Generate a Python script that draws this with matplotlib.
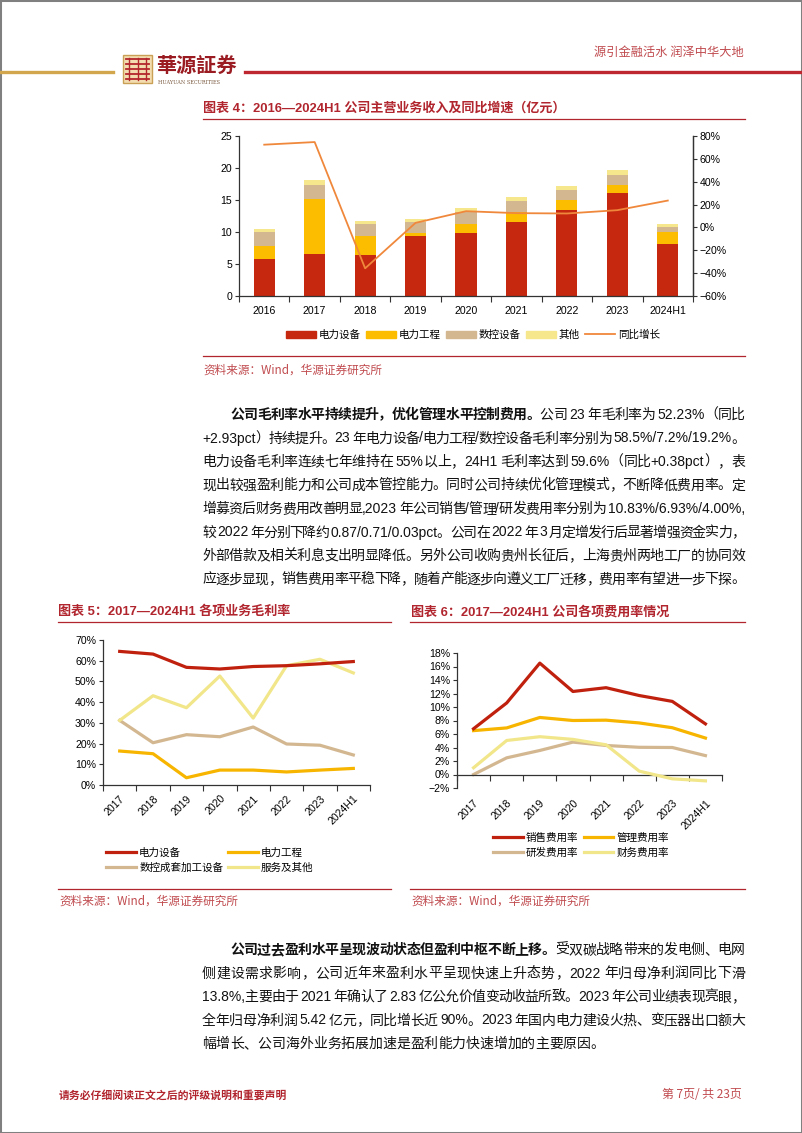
import matplotlib
matplotlib.use('Agg')
import matplotlib.pyplot as plt
import numpy as np
from matplotlib.patches import Rectangle, Patch
from matplotlib.lines import Line2D
from matplotlib.ticker import FuncFormatter

# ---------------- data ----------------
years4 = ['2016', '2017', '2018', '2019', '2020', '2021', '2022', '2023', '2024H1']
rev_power_equip = [5.8, 6.5, 6.45, 9.4, 9.87, 11.64, 13.4, 16.16, 8.16]
rev_power_eng = [2.0, 8.7, 2.95, 0.37, 1.35, 1.5, 1.67, 1.2, 1.87]
rev_cnc = [2.2, 2.1, 1.8, 1.8, 1.85, 1.65, 1.56, 1.6, 0.78]
rev_other = [0.45, 0.85, 0.5, 0.45, 0.72, 0.64, 0.63, 0.73, 0.43]
rev_yoy = [72.4, 74.7, -35.8, 4.0, 14.2, 12.5, 12.2, 15.1, 23.5]
legend4 = ['电力设备', '电力工程', '数控设备', '其他', '同比增长']

years5 = ['2017', '2018', '2019', '2020', '2021', '2022', '2023', '2024H1']
gm_power_equip = [64.5, 63.2, 56.8, 56.0, 57.2, 57.6, 58.5, 59.6]
gm_power_eng = [16.4, 15.1, 3.5, 7.2, 7.2, 6.3, 7.2, 8.0]
gm_cnc = [31.2, 20.4, 24.3, 23.3, 28.0, 19.8, 19.2, 14.5]
gm_other = [31.2, 43.1, 37.3, 52.6, 32.3, 57.6, 60.7, 54.1]
legend5 = ['电力设备', '电力工程', '数控成套加工设备', '服务及其他']

years6 = ['2017', '2018', '2019', '2020', '2021', '2022', '2023', '2024H1']
exp_sales = [6.78, 10.6, 16.5, 12.3, 12.86, 11.70, 10.83, 7.5]
exp_admin = [6.5, 6.9, 8.45, 8.0, 8.05, 7.64, 6.93, 5.4]
exp_rd = [0.0, 2.47, 3.56, 4.8, 4.3, 4.03, 4.00, 2.8]
exp_fin = [1.0, 5.04, 5.6, 5.2, 4.4, 0.5, -0.64, -0.94]
legend6 = ['销售费用率', '管理费用率', '研发费用率', '财务费用率']

title4 = '图表 4：2016—2024H1 公司主营业务收入及同比增速（亿元）'
title5 = '图表 5：2017—2024H1 各项业务毛利率'
title6 = '图表 6：2017—2024H1 公司各项费用率情况'
source = '资料来源：Wind，华源证券研究所'

para1 = [
    [('公司毛利率水平持续提升，优化管理水平控制费用。', 'bold'), ('公司 23 年毛利率为 52.23%（同比', 'normal')],
    [('+2.93pct）持续提升。23 年电力设备/电力工程/数控设备毛利率分别为 58.5%/7.2%/19.2%。', 'normal')],
    [('电力设备毛利率连续七年维持在 55%以上，24H1 毛利率达到 59.6%（同比+0.38pct），表', 'normal')],
    [('现出较强盈利能力和公司成本管控能力。同时公司持续优化管理模式，不断降低费用率。定', 'normal')],
    [('增募资后财务费用改善明显,2023 年公司销售/管理/研发费用率分别为 10.83%/6.93%/4.00%,', 'normal')],
    [('较 2022 年分别下降约 0.87/0.71/0.03pct。公司在 2022 年 3 月定增发行后显著增强资金实力，', 'normal')],
    [('外部借款及相关利息支出明显降低。另外公司收购贵州长征后，上海贵州两地工厂的协同效', 'normal')],
    [('应逐步显现，销售费用率平稳下降，随着产能逐步向遵义工厂迁移，费用率有望进一步下探。', 'normal')],
]
para2 = [
    [('公司过去盈利水平呈现波动状态但盈利中枢不断上移。', 'bold'), ('受双碳战略带来的发电侧、电网', 'normal')],
    [('侧建设需求影响，公司近年来盈利水平呈现快速上升态势，2022 年归母净利润同比下滑', 'normal')],
    [('13.8%,主要由于 2021 年确认了 2.83 亿公允价值变动收益所致。2023 年公司业绩表现亮眼，', 'normal')],
    [('全年归母净利润 5.42 亿元，同比增长近 90%。2023 年国内电力建设火热、变压器出口额大', 'normal')],
    [('幅增长、公司海外业务拓展加速是盈利能力快速增加的主要原因。', 'normal')],
]

# ---------------- style ----------------
W, H = 802, 1133
CJK = 'Noto Sans CJK SC'
LAT = 'Liberation Sans'
FAM = [LAT, CJK]
plt.rcParams['font.family'] = FAM
plt.rcParams['axes.unicode_minus'] = True

C_RED = '#C5280F'
C_YEL = '#FCBD00'
C_TAN = '#D3B791'
C_LIG = '#F6E68C'
C_LINE = '#F0883C'
C_TITLE = '#B1252E'
C_SRC = '#C04A4E'
C_SPINE = '#333333'

fig = plt.figure(figsize=(W / 100, H / 100), dpi=100)
renderer = fig.canvas.get_renderer()


def fx(x):
    return x / W


def fy(y):
    return 1 - y / H


def rect(l, t, r, b):
    return [l / W, 1 - b / H, (r - l) / W, (b - t) / H]


def hline(x0, x1, y, color, lw):
    fig.add_artist(Line2D([fx(x0), fx(x1)], [fy(y), fy(y)], color=color, lw=lw,
                          transform=fig.transFigure))


# page border
fig.add_artist(Rectangle((0, 0), 1, 1, transform=fig.transFigure, fill=False,
                         edgecolor='#808080', lw=2.2))

# ---------------- header ----------------
hline(0, 113, 72, '#D2A64C', 2.4)
hline(245, 802, 72, '#BF2730', 2.4)
# logo icon
fig.add_artist(Rectangle((fx(123), fy(83)), 29 / W, 28 / H, transform=fig.transFigure,
                         facecolor='#F3DDB0', edgecolor='#C9A055', lw=1.0))
for yy in [59, 64, 69, 74, 79]:
    hline(126, 149, yy, '#B3262C', 1.3)
for xx in [129, 137.5, 146]:
    fig.add_artist(Line2D([fx(xx), fx(xx)], [fy(58), fy(80)], color='#B3262C', lw=1.0,
                          transform=fig.transFigure))
fig.text(fx(156), fy(65), '華源証券', fontsize=14.5, fontweight='bold', color='#9A1C22',
         family=[CJK], va='center', ha='left')
fig.text(fx(158), fy(82), 'HUAYUAN SECURITIES', fontsize=3.6, color='#7A5A40',
         family=['DejaVu Serif'], va='center', ha='left')
fig.text(fx(744), fy(52), '源引金融活水 润泽中华大地', fontsize=8.8, color='#C04A4E',
         family=[CJK], va='center', ha='right')

# ---------------- chart 4 ----------------
fig.text(fx(203), fy(108), title4, fontsize=9.4, fontweight='bold', color=C_TITLE,
         va='center', ha='left')
hline(203, 745, 119, C_TITLE, 0.9)

ax4 = fig.add_axes(rect(239, 136, 693, 296))
x4 = np.arange(len(years4))
bw = 0.42
ax4.bar(x4, rev_power_equip, bw, color=C_RED, zorder=2)
bot = np.array(rev_power_equip)
ax4.bar(x4, rev_power_eng, bw, bottom=bot, color=C_YEL, zorder=2)
bot = bot + np.array(rev_power_eng)
ax4.bar(x4, rev_cnc, bw, bottom=bot, color=C_TAN, zorder=2)
bot = bot + np.array(rev_cnc)
ax4.bar(x4, rev_other, bw, bottom=bot, color=C_LIG, zorder=2)
ax4.set_xlim(-0.5, len(years4) - 0.5)
ax4.set_ylim(0, 25)
ax4.set_yticks(np.arange(0, 26, 5))
ax4.set_xticks(x4)
ax4.set_xticklabels(years4)
ax4.set_xticks(np.arange(-0.5, len(years4), 1.0), minor=True)
ax4.tick_params(axis='x', which='major', length=0, pad=7, labelsize=7.6)
ax4.tick_params(axis='x', which='minor', length=4, direction='out', width=0.8, color=C_SPINE)
ax4.tick_params(axis='y', length=3, width=0.8, labelsize=7.6, pad=2, color=C_SPINE)
ax4.spines['top'].set_visible(False)
for s in ['left', 'bottom', 'right']:
    ax4.spines[s].set_color(C_SPINE)
    ax4.spines[s].set_linewidth(0.9)
ax4b = ax4.twinx()
ax4b.plot(x4, rev_yoy, color=C_LINE, lw=1.3, zorder=3)
ax4b.set_ylim(-60, 80)
ax4b.set_yticks(np.arange(-60, 81, 20))
ax4b.yaxis.set_major_formatter(FuncFormatter(lambda v, p: ('\u2212' if v < 0 else '') + '%d%%' % abs(v)))
ax4b.tick_params(axis='y', length=3, width=0.8, labelsize=7.6, pad=2, color=C_SPINE)
ax4b.spines['top'].set_visible(False)
ax4b.spines['right'].set_color(C_SPINE)
ax4b.spines['right'].set_linewidth(0.9)
ax4b.spines['left'].set_visible(False)
ax4b.spines['bottom'].set_visible(False)

h4 = [Patch(color=C_RED), Patch(color=C_YEL), Patch(color=C_TAN), Patch(color=C_LIG),
      Line2D([], [], color=C_LINE, lw=1.3)]
fig.legend(h4, legend4, loc='center', bbox_to_anchor=(fx(473), fy(335)), ncol=5,
           frameon=False, prop={'family': FAM, 'size': 7.6}, handlelength=2.8,
           handleheight=0.75, handletextpad=0.3, columnspacing=0.5)
hline(203, 745, 356, C_TITLE, 0.9)
fig.text(fx(203), fy(370), source, fontsize=8.4, color=C_SRC, va='center', ha='left',
         family=[CJK, LAT])


# ---------------- paragraph helper ----------------
def is_cjk(ch):
    return ord(ch) >= 0x2E80


def tokenize(s):
    toks, buf = [], ''
    for ch in s:
        if is_cjk(ch) or ch == ' ':
            if buf:
                toks.append(buf)
                buf = ''
            toks.append(ch)
        else:
            buf += ch
    if buf:
        toks.append(buf)
    return toks


FS = 10.0
FSPX = FS * 100 / 72


def draw_line(runs, x0, x1, yc, justify=True):
    items = []
    for txt, wgt in runs:
        for tok in tokenize(txt):
            if tok == ' ':
                items.append((None, 0.22 * FSPX))
            else:
                t = fig.text(0, 0, tok, fontsize=FS, fontweight=wgt, color='#111111',
                             family=FAM, va='baseline', ha='left')
                w = t.get_window_extent(renderer).width
                items.append((t, w))
    total = sum(w for _, w in items)
    n = len(items) - 1
    extra = (x1 - x0 - total) / n if (justify and n > 0) else 0.0
    x = x0
    yb = yc + 0.36 * FSPX
    for t, w in items:
        if t is not None:
            t.set_position((fx(x), fy(yb)))
        x += w + extra


def draw_para(lines, ytop, spacing, last_justify):
    for i, runs in enumerate(lines):
        x0 = 230 if i == 0 else 202
        just = True if i < len(lines) - 1 else last_justify
        draw_line(runs, x0, 745, ytop + i * spacing, just)


draw_para(para1, 414, 23.5, True)
draw_para(para2, 949, 23.5, False)

# ---------------- chart 5 ----------------
fig.text(fx(58), fy(612), title5, fontsize=9.4, fontweight='bold', color=C_TITLE,
         va='center', ha='left')
hline(58, 391, 622, C_TITLE, 0.9)
ax5 = fig.add_axes(rect(103, 640, 370, 785))
x5 = np.arange(len(years5))
lw5 = 2.3
a, = ax5.plot(x5, gm_power_equip, color='#C0200E', lw=lw5, zorder=4)
b, = ax5.plot(x5, gm_power_eng, color='#F7B500', lw=lw5, zorder=3)
c, = ax5.plot(x5, gm_cnc, color=C_TAN, lw=lw5, zorder=2)
d, = ax5.plot(x5, gm_other, color='#F2E68A', lw=lw5, zorder=3)
ax5.set_xlim(-0.5, len(years5) - 0.5)
ax5.set_ylim(0, 70)
ax5.set_yticks(np.arange(0, 71, 10))
ax5.yaxis.set_major_formatter(FuncFormatter(lambda v, p: '%d%%' % v))
ax5.set_xticks(x5)
ax5.set_xticklabels(years5, rotation=45, ha='right', rotation_mode='anchor')
ax5.set_xticks(np.arange(-0.5, len(years5), 1.0), minor=True)
ax5.tick_params(axis='x', which='major', length=0, pad=6, labelsize=7.6)
ax5.tick_params(axis='x', which='minor', length=4, width=0.8, color=C_SPINE)
ax5.tick_params(axis='y', length=3, width=0.8, labelsize=7.6, pad=2, color=C_SPINE)
for s in ['top', 'right']:
    ax5.spines[s].set_visible(False)
for s in ['left', 'bottom']:
    ax5.spines[s].set_color(C_SPINE)
    ax5.spines[s].set_linewidth(0.9)
fig.legend([a, c, b, d], [legend5[0], legend5[2], legend5[1], legend5[3]], loc='center',
           bbox_to_anchor=(fx(210), fy(860)), ncol=2, frameon=False,
           prop={'family': FAM, 'size': 7.6}, handlelength=2.8, handletextpad=0.3,
           columnspacing=0.5, labelspacing=0.45)
hline(58, 391, 889, C_TITLE, 0.9)
fig.text(fx(59), fy(901), source, fontsize=8.4, color=C_SRC, va='center', ha='left',
         family=[CJK, LAT])

# ---------------- chart 6 ----------------
fig.text(fx(411), fy(612), title6, fontsize=9.4, fontweight='bold', color=C_TITLE,
         va='center', ha='left')
hline(410, 745, 622, C_TITLE, 0.9)
ax6 = fig.add_axes(rect(457, 653, 722, 788))
x6 = np.arange(len(years6))
a6, = ax6.plot(x6, exp_sales, color='#C0200E', lw=lw5, zorder=4)
b6, = ax6.plot(x6, exp_admin, color='#F7B500', lw=lw5, zorder=3)
c6, = ax6.plot(x6, exp_rd, color=C_TAN, lw=lw5, zorder=2)
d6, = ax6.plot(x6, exp_fin, color='#F2E68A', lw=lw5, zorder=3)
ax6.set_xlim(-0.5, len(years6) - 0.5)
ax6.set_ylim(-2, 18)
ax6.set_yticks(np.arange(-2, 19, 2))
ax6.yaxis.set_major_formatter(FuncFormatter(lambda v, p: ('\u2212' if v < 0 else '') + '%d%%' % abs(v)))
ax6.spines['bottom'].set_position(('data', 0))
ax6.set_xticks(x6)
ax6.set_xticklabels(years6, rotation=45, ha='right', rotation_mode='anchor')
ax6.set_xticks(np.arange(-0.5, len(years6), 1.0), minor=True)
ax6.tick_params(axis='x', which='major', length=0, pad=17, labelsize=7.6)
ax6.tick_params(axis='x', which='minor', length=4, width=0.8, color=C_SPINE)
ax6.tick_params(axis='y', length=3, width=0.8, labelsize=7.6, pad=2, color=C_SPINE)
for s in ['top', 'right']:
    ax6.spines[s].set_visible(False)
for s in ['left', 'bottom']:
    ax6.spines[s].set_color(C_SPINE)
    ax6.spines[s].set_linewidth(0.9)
fig.legend([a6, c6, b6, d6], [legend6[0], legend6[2], legend6[1], legend6[3]], loc='center',
           bbox_to_anchor=(fx(581), fy(845)), ncol=2, frameon=False,
           prop={'family': FAM, 'size': 7.6}, handlelength=2.8, handletextpad=0.3,
           columnspacing=0.5, labelspacing=0.45)
hline(410, 745, 889, C_TITLE, 0.9)
fig.text(fx(411), fy(901), source, fontsize=8.4, color=C_SRC, va='center', ha='left',
         family=[CJK, LAT])

# ---------------- footer ----------------
fig.text(fx(59), fy(1095), '请务必仔细阅读正文之后的评级说明和重要声明', fontsize=7.8,
         fontweight='bold', color='#B1252E', va='center', ha='left', family=[CJK])
fig.text(fx(742), fy(1095), '第 7页/ 共 23页', fontsize=8.6, color='#C04A4E',
         va='center', ha='right', family=[CJK, LAT])

fig.savefig('out.png', dpi=100)
